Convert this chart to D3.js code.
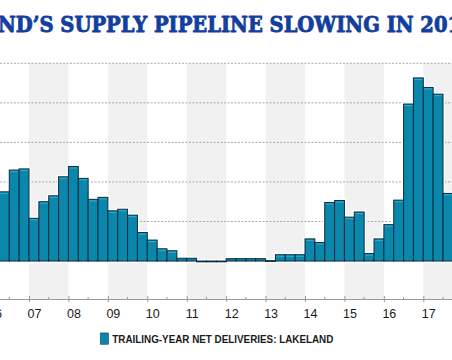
<!DOCTYPE html>
<html><head><meta charset="utf-8">
<script src="https://cdn.jsdelivr.net/npm/d3@7"></script>
<style>html,body{margin:0;padding:0;background:#fff;overflow:hidden}</style>
</head><body><svg id="c" width="452" height="360"></svg>
<script>
const titleText = "LAKELAND\u2019S SUPPLY PIPELINE SLOWING IN 2018";
const legendLabel = "TRAILING-YEAR NET DELIVERIES: LAKELAND";
const quarters = ["2006Q2","2006Q3","2006Q4",
  "2007Q1","2007Q2","2007Q3","2007Q4",
  "2008Q1","2008Q2","2008Q3","2008Q4",
  "2009Q1","2009Q2","2009Q3","2009Q4",
  "2010Q1","2010Q2","2010Q3","2010Q4",
  "2011Q1","2011Q2","2011Q3","2011Q4",
  "2012Q1","2012Q2","2012Q3","2012Q4",
  "2013Q1","2013Q2","2013Q3","2013Q4",
  "2014Q1","2014Q2","2014Q3","2014Q4",
  "2015Q1","2015Q2","2015Q3","2015Q4",
  "2016Q1","2016Q2","2016Q3","2016Q4",
  "2017Q1","2017Q2","2017Q3"];
const deliveries = [1.75,2.30,2.33,
  1.08,1.50,1.65,2.13,
  2.39,2.09,1.56,1.61,
  1.27,1.31,1.16,0.72,
  0.53,0.31,0.26,0.07,
  0.07,-0.02,-0.02,-0.02,
  0.06,0.06,0.06,0.06,
  0.01,0.16,0.16,0.16,
  0.56,0.47,1.48,1.53,
  1.11,1.24,0.19,0.56,
  0.92,1.54,3.97,4.63,
  4.39,4.22,1.71];
const yearTicks = [2006,2007,2008,2009,2010,2011,2012,2013,2014,2015,2016,2017];
const yearLabels = ["06","07","08","09","10","11","12","13","14","15","16","17"];
const gridValues = [1,2,3,4,5];
const shadedYears = [2007,2009,2011,2013,2015,2017];

const W = 452, H = 360;
const svg = d3.select("#c");
const x = d3.scaleLinear().domain([2006, 2018]).range([-10.43, 462.73]);
const y = d3.scaleLinear().domain([-0.96, 5]).range([299, 63.3]);
const qpos = q => +q.slice(0,4) + (+q.slice(5) - 1) / 4;
const data = quarters.map((q,i) => ({q, t: qpos(q), v: deliveries[i]}));

// shaded year bands
svg.append("g").selectAll("rect").data(shadedYears).join("rect")
  .attr("x", d => x(d)).attr("width", d => x(d+1) - x(d))
  .attr("y", y(5)).attr("height", y(-0.96) - y(5))
  .attr("fill", "#f1f1f1");

// gridlines
svg.append("g").selectAll("line").data(gridValues).join("line")
  .attr("x1", 0).attr("x2", W)
  .attr("y1", d => y(d)).attr("y2", d => y(d))
  .attr("stroke", "#a9a9a9").attr("stroke-width", 1)
  .attr("stroke-dasharray", "2,1.5");

// zero line
svg.append("line").attr("x1", 0).attr("x2", W)
  .attr("y1", y(0)).attr("y2", y(0))
  .attr("stroke", "#c8c8c8").attr("stroke-width", 1);

const bw = x(2006.25) - x(2006);
const barY = d => Math.min(y(d.v), y(0));
const barH = d => Math.max(0.8, Math.abs(y(d.v) - y(0)));

// white halo
svg.append("g").selectAll("rect").data(data).join("rect")
  .attr("x", d => x(d.t)).attr("width", bw)
  .attr("y", barY).attr("height", barH)
  .attr("fill", "#fff").attr("stroke", "#fff").attr("stroke-width", 3.5);

// bars
svg.append("g").selectAll("rect").data(data).join("rect")
  .attr("x", d => x(d.t)).attr("width", bw)
  .attr("y", barY).attr("height", barH)
  .attr("fill", "#0b87ab").attr("stroke", "#0c2c40").attr("stroke-width", 1);

// top highlights
svg.append("g").selectAll("line").data(data.filter(d => y(0) - y(d.v) > 4)).join("line")
  .attr("x1", d => x(d.t) + 1).attr("x2", d => x(d.t) + bw - 1)
  .attr("y1", d => y(d.v) + 1.5).attr("y2", d => y(d.v) + 1.5)
  .attr("stroke", "#39aed1").attr("stroke-width", 1);

// x axis
const axisY = y(-0.96);
const gx = svg.append("g").attr("transform", `translate(0,${axisY})`)
  .call(d3.axisBottom(x).tickValues(yearTicks).tickFormat((d,i) => yearLabels[i])
    .tickSize(3).tickSizeOuter(0).tickPadding(0));
gx.select(".domain").attr("stroke", "#9a9a9a");
gx.selectAll(".tick line").attr("y1", -3).attr("y2", 3).attr("stroke", "#9a9a9a");
gx.selectAll(".tick text").attr("y", 19.3).attr("dy", 0).attr("dx", 5)
  .attr("fill", "#1a1a1a").style("font-family", "'Liberation Sans', Arial, sans-serif")
  .style("font-size", "12.5px");

const halfYears = yearTicks.map(d => d + 0.5);
svg.append("g").selectAll("line").data(halfYears).join("line")
  .attr("x1", d => x(d)).attr("x2", d => x(d))
  .attr("y1", axisY - 2).attr("y2", axisY + 1)
  .attr("stroke", "#9a9a9a");

// title
const title = svg.append("text").text(titleText)
  .attr("fill", "#123f9e").attr("stroke", "#123f9e").attr("stroke-width", 0.9)
  .attr("stroke-linejoin", "round")
  .style("font-family", "'DejaVu Serif', serif").style("font-weight", "bold")
  .style("font-size", "21.5px");
const tn = title.node();
const a = tn.getSubStringLength(0, titleText.indexOf("ND\u2019S"));
const b = tn.getSubStringLength(0, titleText.indexOf("2018") + 2);
const s = 450 / (b - a);
title.attr("transform", `translate(${-2 - s * a},31.7) scale(${s},1)`);

// legend
svg.append("rect").attr("x", 100.5).attr("y", 333).attr("width", 7.8).attr("height", 11.2)
  .attr("fill", "#0b87ab").attr("stroke", "#0c2c40").attr("stroke-width", 0.6);
svg.append("text").text(legendLabel)
  .attr("x", 112.3).attr("y", 342.8)
  .attr("fill", "#1a1a1a")
  .style("font-family", "'Liberation Sans', Arial, sans-serif").style("font-weight", "bold")
  .style("font-size", "10.8px")
  .attr("textLength", 221).attr("lengthAdjust", "spacingAndGlyphs");
</script></body></html>
